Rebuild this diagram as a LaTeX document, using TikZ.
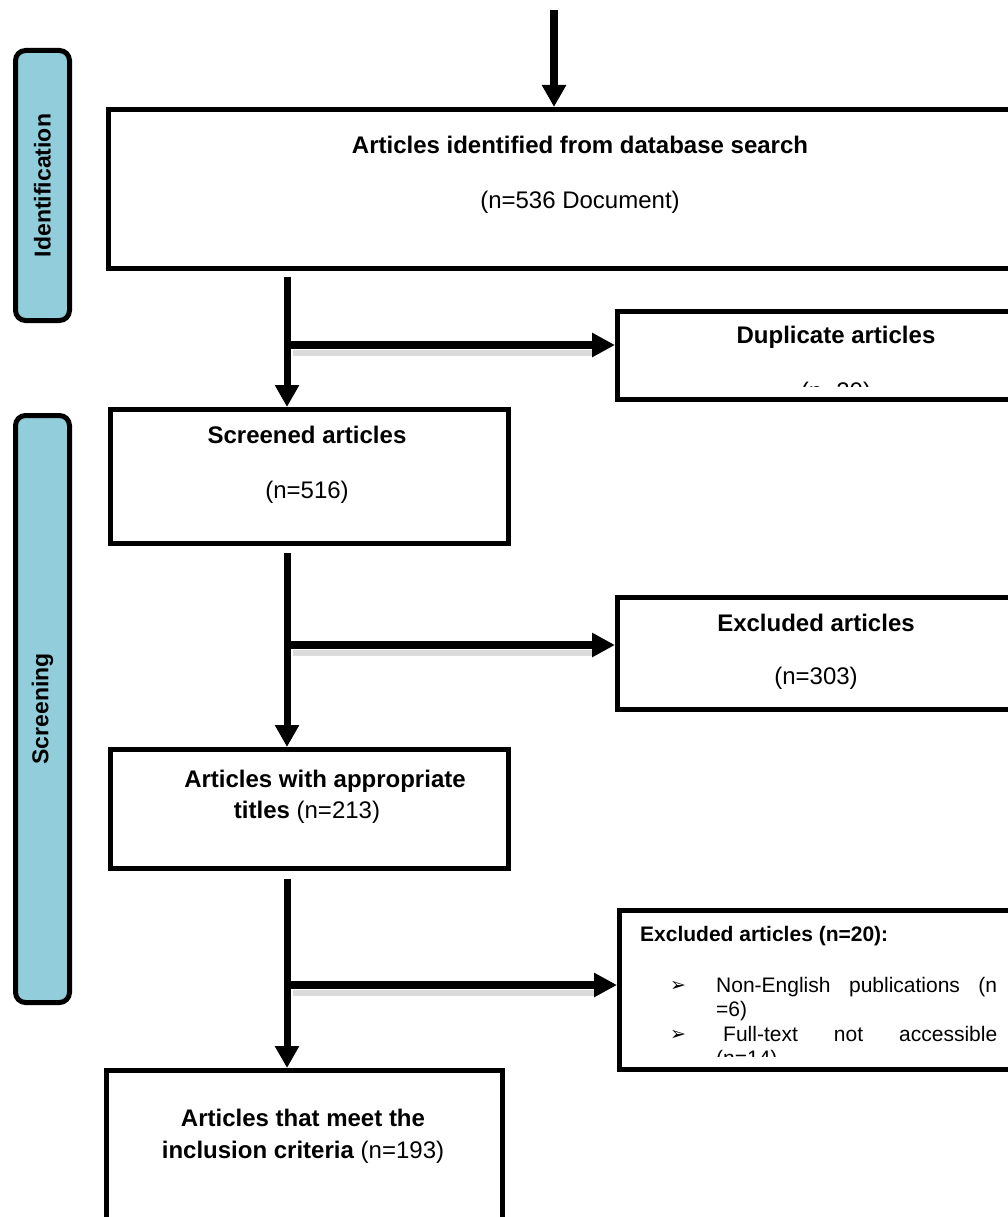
\documentclass[tikz,border=0pt]{standalone}
\usepackage{fontspec}
\setmainfont{Liberation Sans}
\newfontfamily\dejavu{DejaVu Sans}
\usetikzlibrary{arrows.meta,calc}
\definecolor{labelblue}{RGB}{146,205,220}
\begin{document}
\begin{tikzpicture}[x=1pt,y=-1pt,
  box/.style={draw, line width=5pt, rectangle, inner sep=0pt, anchor=north west},
  phase/.style={draw, line width=5pt, fill=labelblue, rounded corners=10pt, inner sep=0pt, anchor=north west},
  phasetext/.style={rotate=90, inner sep=0pt, font=\fontsize{23}{28}\selectfont\bfseries},
  ttl/.style={font=\fontsize{24}{29}\selectfont\bfseries, anchor=base, inner sep=0pt},
  body/.style={font=\fontsize{24}{29}\selectfont, anchor=base, inner sep=0pt},
  small/.style={font=\fontsize{21}{25}\selectfont, anchor=base west, inner sep=0pt},
  bullet/.style={font=\dejavu\fontsize{19}{22}\selectfont, anchor=base west, inner sep=0pt},
  vflow/.style={line width=7pt, -{Triangle[length=22pt,width=23pt]}},
  hflow/.style={line width=8pt, -{Triangle[length=23pt,width=23pt]}},
  shade/.style={line width=6pt, draw=black!14},
]
\useasboundingbox (0,0) rectangle (1008,1217);
\clip (0,0) rectangle (1008,1217);

% phase labels
\node[phase, minimum width=54pt, minimum height=270pt] (ident) at (13,48) {};
\node[phasetext] (identlbl) at (ident.center) {Identification};
\node[phase, minimum width=54pt, minimum height=587pt] (screen) at (13,413) {};
\node[phasetext] (screenlbl) at (screen.center) {Screening};

% boxes
\node[box, minimum width=950pt, minimum height=159pt] (idbox) at (106,107) {};
\node[box, minimum width=398pt, minimum height=134pt] (screened) at (108,407) {};
\node[box, minimum width=440pt, minimum height=88pt] (dup) at (615,309) {};
\node[box, minimum width=402pt, minimum height=112pt] (excl) at (615,595) {};
\node[box, minimum width=398pt, minimum height=119pt] (approp) at (108,747) {};
\node[box, minimum width=440pt, minimum height=159pt] (excltwo) at (617,908) {};
\node[box, minimum width=396pt, minimum height=200pt] (incl) at (104,1068) {};

% texts
\node[ttl] (idt1) at (580,154) {Articles identified from database search};
\node[body] (idt2) at (580,208) {(n=536 Document)};
\node[ttl] (dupt1) at (836,343) {Duplicate articles};
\begin{scope}
  \clip (618,312) rectangle (1008,386);
  \node[body] (dupt2) at (836,399) {(n=20)};
\end{scope}
\node[ttl] (scrt1) at (307,443) {Screened articles};
\node[body] (scrt2) at (307,498) {(n=516)};
\node[ttl] (exct1) at (816,631) {Excluded articles};
\node[body] (exct2) at (816,684) {(n=303)};
\node[ttl] (appt1) at (325,787) {Articles with appropriate};
\node[body] (appt2) at (307,818) {\textbf{titles} (n=213)};
\node[small, font=\fontsize{21}{25}\selectfont\bfseries] (ex2h) at (640,941) {Excluded articles (n=20):};
\node[bullet] (bul1) at (670,991) {➢};
\node[small] (ex2l1) at (716,992) {\hbox to 281pt{Non-English\hfill publications\hfill (n}};
\node[small] (ex2l2) at (716,1016) {=6)};
\node[bullet] (bul2) at (670,1040) {➢};
\node[small] (ex2l3) at (723,1041) {\hbox to 274pt{Full-text\hfill not\hfill accessible}};
\begin{scope}
  \clip (620,1000) rectangle (1008,1056);
  \node[small] (ex2l4) at (716,1065) {(n=14)};
\end{scope}
\node[ttl] (inct1) at (303,1126) {Articles that meet the};
\node[body] (inct2) at (303,1158) {\textbf{inclusion criteria} (n=193)};

% connectors
\coordinate (topstart) at (554,10);
\draw[vflow, line width=8pt] (topstart) -- (topstart |- idbox.north);

\coordinate (s1) at (287,277);
\coordinate (b1) at (287,345);
\draw[shade] ($(b1)+(6,8)$) -- ($(b1 -| dup.west)+(-20,8)$);
\draw[vflow] (s1) -- (s1 |- screened.north);
\draw[hflow] (b1) -- (b1 -| dup.west);

\coordinate (s2) at (287,553);
\coordinate (b2) at (287,645);
\draw[shade] ($(b2)+(6,8)$) -- ($(b2 -| excl.west)+(-20,8)$);
\draw[vflow] (s2) -- (s2 |- approp.north);
\draw[hflow] (b2) -- (b2 -| excl.west);

\coordinate (s3) at (287,879);
\coordinate (b3) at (287,985);
\draw[shade] ($(b3)+(6,8)$) -- ($(b3 -| excltwo.west)+(-20,8)$);
\draw[vflow] (s3) -- (s3 |- incl.north);
\draw[hflow] (b3) -- (b3 -| excltwo.west);
\end{tikzpicture}
\end{document}
